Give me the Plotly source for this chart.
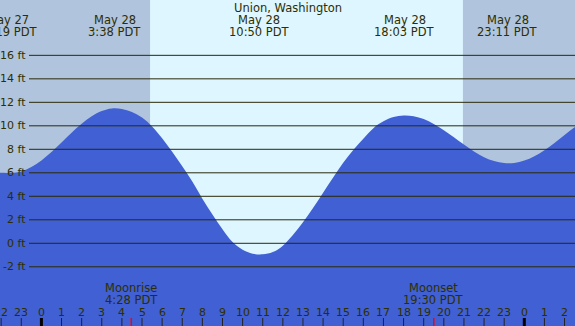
import plotly.graph_objects as go

# ---- data ----
STATION = "Union, Washington"
HOURS = [h / 2 for h in range(-5, 55)]
HEIGHTS = [6.05, 6.0, 6.0, 6.12, 6.49, 7.05, 7.77, 8.58, 9.41, 10.17,
           10.81, 11.26, 11.48, 11.44, 11.18, 10.7, 9.95, 8.95, 7.8, 6.55,
           5.25, 3.8, 2.45, 1.2, 0.1, -0.55, -0.88, -0.94, -0.75, -0.2,
           0.7, 1.8, 3.0, 4.3, 5.6, 6.85, 7.95, 8.9, 9.8, 10.38,
           10.75, 10.88, 10.82, 10.57, 10.16, 9.62, 9.02, 8.4, 7.82, 7.33,
           7.0, 6.83, 6.84, 7.05, 7.42, 7.93, 8.54, 9.21, 9.87, 10.48]

TIDE_TIMES = [-1.683, 3.633, 10.833, 18.05, 23.183]
TIDE_DATES = ["May 27", "May 28", "May 28", "May 28", "May 28"]
TIDE_LABELS = ["22:19 PDT", "3:38 PDT", "10:50 PDT", "18:03 PDT", "23:11 PDT"]

MOON_TIMES = [4.467, 19.5]
MOON_NAMES = ["Moonrise", "Moonset"]
MOON_LABELS = ["4:28 PDT", "19:30 PDT"]

SUNRISE = 5.40
SUNSET = 20.95

FT_TICKS = [-2, 0, 2, 4, 6, 8, 10, 12, 14, 16]
HOUR_TICKS = list(range(-2, 27))

# ---- styling ----
W, H = 575, 326
X_RANGE = [-2.058, 26.52]
Y_RANGE = [-7.04, 20.71]
NIGHT = "#b0c4de"
DAY = "#ddf6ff"
WATER = "#4060d4"
INK = "#2e2e00"
FONT = "DejaVu Sans"


def py(px):
    return 1 - px / H


fig = go.Figure()
fig.add_trace(go.Scatter(x=HOURS, y=[Y_RANGE[0]] * len(HOURS), mode="lines",
                         line=dict(width=0), hoverinfo="skip", showlegend=False))
fig.add_trace(go.Scatter(x=HOURS, y=HEIGHTS, mode="lines", fill="tonexty",
                         fillcolor=WATER, line=dict(width=0, color=WATER, shape="spline"),
                         showlegend=False))

shapes = []
shapes.append(dict(type="rect", xref="x", yref="paper", x0=SUNRISE, x1=SUNSET,
                   y0=0, y1=1, fillcolor=DAY, line=dict(width=0), layer="below"))
for v in FT_TICKS:
    shapes.append(dict(type="line", xref="paper", yref="y", x0=29 / W, x1=1, y0=v, y1=v,
                       line=dict(color="#2a2a08", width=1), layer="above"))
for h in HOUR_TICKS:
    mid = (h % 24 == 0)
    shapes.append(dict(type="line", xref="x", yref="paper", x0=h, x1=h,
                       y0=0, y1=8 / H,
                       line=dict(color="#000000" if mid else "#222222", width=3 if mid else 1),
                       layer="above"))
for t in MOON_TIMES:
    shapes.append(dict(type="line", xref="x", yref="paper", x0=t, x1=t, y0=0, y1=8 / H,
                       line=dict(color="#ff0000", width=1.5), layer="above"))

ann = []
fnt = dict(family=FONT, size=11.5, color=INK)
sfnt = dict(family=FONT, size=11, color=INK)
ann.append(dict(text=STATION, xref="paper", yref="paper", x=287.5 / W, y=py(8),
                showarrow=False, font=fnt, xanchor="center", yanchor="middle"))
for t, d, lab in zip(TIDE_TIMES, TIDE_DATES, TIDE_LABELS):
    ann.append(dict(text=d, xref="x", yref="paper", x=t, y=py(20.5), showarrow=False,
                    font=fnt, xanchor="center", yanchor="middle"))
    ann.append(dict(text=lab, xref="x", yref="paper", x=t, y=py(32.2), showarrow=False,
                    font=fnt, xanchor="center", yanchor="middle"))
for t, n, lab in zip(MOON_TIMES, MOON_NAMES, MOON_LABELS):
    ann.append(dict(text=n, xref="x", yref="paper", x=t, y=py(287.5), showarrow=False,
                    font=fnt, xanchor="center", yanchor="middle"))
    ann.append(dict(text=lab, xref="x", yref="paper", x=t, y=py(299.5), showarrow=False,
                    font=fnt, xanchor="center", yanchor="middle"))
for h in HOUR_TICKS:
    ann.append(dict(text=str(h % 24), xref="x", yref="paper", x=h, y=py(312),
                    showarrow=False, font=sfnt, xanchor="center", yanchor="middle"))
for v in FT_TICKS:
    ann.append(dict(text=f"{v} ft", xref="paper", yref="y", x=28 / W, y=v,
                    showarrow=False, font=sfnt, xanchor="right", yanchor="middle"))

fig.update_layout(
    width=W, height=H, margin=dict(l=0, r=0, t=0, b=0),
    paper_bgcolor=NIGHT, plot_bgcolor=NIGHT,
    xaxis=dict(range=X_RANGE, visible=False, fixedrange=True),
    yaxis=dict(range=Y_RANGE, visible=False, fixedrange=True),
    shapes=shapes, annotations=ann, showlegend=False,
)

fig.write_html("out.html", config={"displayModeBar": False},
               post_script="document.body.style.margin='0';document.body.style.overflow='hidden';")
